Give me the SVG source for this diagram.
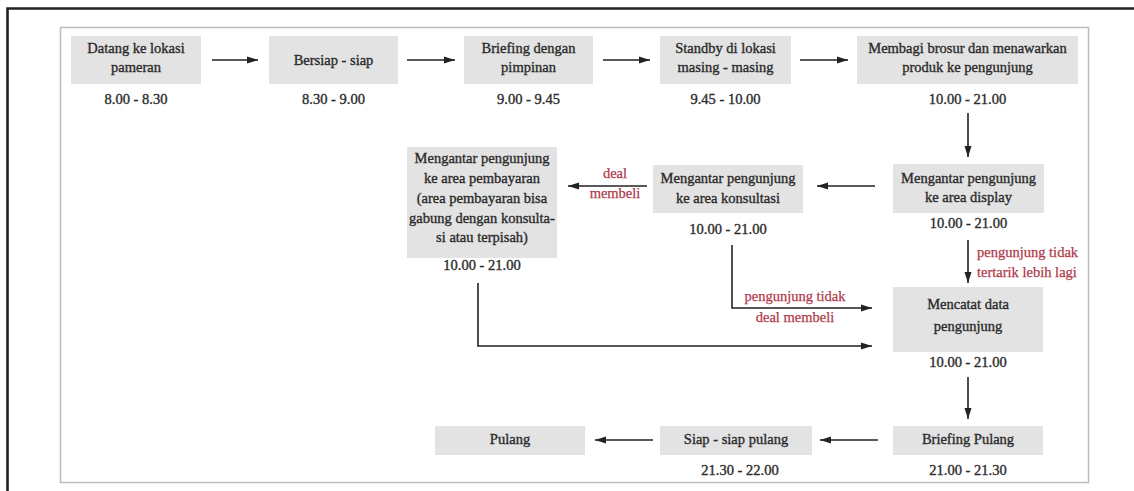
<svg xmlns="http://www.w3.org/2000/svg" width="1134" height="491" viewBox="0 0 1134 491">
<style>
.box{fill:#e3e3e3;}
.t{font-family:'Liberation Serif','Times New Roman','DejaVu Serif',serif;font-size:14.5px;fill:#2b2b2b;stroke:#2b2b2b;stroke-width:0.35;text-anchor:middle;}
.r{font-family:'Liberation Serif','Times New Roman','DejaVu Serif',serif;font-size:14.5px;fill:#b0394a;stroke:#b0394a;stroke-width:0.25;}
.c{fill:none;stroke:#222;stroke-width:1.6;marker-end:url(#ah);}
</style>
<defs>
<marker id="ah" markerUnits="userSpaceOnUse" markerWidth="12" markerHeight="8" refX="11" refY="4" orient="auto">
<path d="M0,0.5 L11,4 L0,7.5 z" fill="#222"/>
</marker>
</defs>
<rect width="1134" height="491" fill="#fff"/>
<path d="M7.5,491 V8.5 H1134" fill="none" stroke="#222" stroke-width="2.6"/>
<rect x="60.5" y="27.5" width="1028" height="455" fill="none" stroke="#bdbdbd" stroke-width="1.5"/>

<g id="n1"><rect class="box" x="71" y="36" width="130" height="48"/>
<text class="t" x="136" y="53">Datang ke lokasi</text><text class="t" x="136" y="72">pameran</text>
<text class="t" x="136" y="104">8.00 - 8.30</text></g>
<g id="n2"><rect class="box" x="269" y="36" width="129" height="48"/>
<text class="t" x="333.5" y="64.5">Bersiap - siap</text>
<text class="t" x="333.5" y="104">8.30 - 9.00</text></g>
<g id="n3"><rect class="box" x="464" y="36" width="129" height="48"/>
<text class="t" x="528.5" y="53">Briefing dengan</text><text class="t" x="528.5" y="72">pimpinan</text>
<text class="t" x="528.5" y="104">9.00 - 9.45</text></g>
<g id="n4"><rect class="box" x="660" y="36" width="131" height="48"/>
<text class="t" x="725.5" y="53">Standby di lokasi</text><text class="t" x="725.5" y="72">masing - masing</text>
<text class="t" x="725.5" y="104">9.45 - 10.00</text></g>
<g id="n5"><rect class="box" x="857" y="36" width="221" height="48"/>
<text class="t" x="967.5" y="53">Membagi brosur dan menawarkan</text><text class="t" x="967.5" y="72">produk ke pengunjung</text>
<text class="t" x="967.5" y="104">10.00 - 21.00</text></g>
<g id="n6"><rect class="box" x="893" y="164" width="151" height="49"/>
<text class="t" x="968.5" y="183">Mengantar pengunjung</text><text class="t" x="968.5" y="202">ke area display</text>
<text class="t" x="968.5" y="228">10.00 - 21.00</text></g>
<g id="n7"><rect class="box" x="653" y="165" width="150" height="48"/>
<text class="t" x="728" y="183">Mengantar pengunjung</text><text class="t" x="728" y="203">ke area konsultasi</text>
<text class="t" x="728" y="234">10.00 - 21.00</text></g>
<g id="n8"><rect class="box" x="407" y="147" width="150" height="111"/>
<text class="t" x="482" y="163">Mengantar pengunjung</text><text class="t" x="482" y="183">ke area pembayaran</text>
<text class="t" x="482" y="203">(area pembayaran bisa</text><text class="t" x="482" y="223">gabung dengan konsulta-</text>
<text class="t" x="482" y="242">si atau terpisah)</text>
<text class="t" x="482" y="270">10.00 - 21.00</text></g>
<g id="n9"><rect class="box" x="893" y="287" width="150" height="65"/>
<text class="t" x="968" y="309">Mencatat data</text><text class="t" x="968" y="331">pengunjung</text>
<text class="t" x="968" y="367">10.00 - 21.00</text></g>
<g id="n10"><rect class="box" x="893" y="426" width="150" height="29"/>
<text class="t" x="968" y="444">Briefing Pulang</text>
<text class="t" x="968" y="475">21.00 - 21.30</text></g>
<g id="n11"><rect class="box" x="660" y="426" width="152" height="29"/>
<text class="t" x="736" y="444">Siap - siap pulang</text>
<text class="t" x="740" y="475">21.30 - 22.00</text></g>
<g id="n12"><rect class="box" x="435" y="426" width="150" height="29"/>
<text class="t" x="510" y="444">Pulang</text></g>

<g id="connectors">
<path class="c" d="M212,60 H258"/>
<path class="c" d="M407,60 H455"/>
<path class="c" d="M603,60 H650"/>
<path class="c" d="M800,60 H848"/>
<path class="c" d="M968,113 V157"/>
<path class="c" d="M875,186 H817"/>
<path class="c" d="M647,186 H568"/>
<path class="c" d="M968,240 V283"/>
<path class="c" d="M732,245 V308 H872"/>
<path class="c" d="M478,283 V346 H872"/>
<path class="c" d="M968,377 V419"/>
<path class="c" d="M878,440 H820"/>
<path class="c" d="M653,440 H595"/>
<text class="r" x="615" y="178" text-anchor="middle">deal</text>
<text class="r" x="615" y="198" text-anchor="middle">membeli</text>
<text class="r" x="977" y="257">pengunjung tidak</text>
<text class="r" x="977" y="277">tertarik lebih lagi</text>
<text class="r" x="795" y="301" text-anchor="middle">pengunjung tidak</text>
<text class="r" x="795" y="322" text-anchor="middle">deal membeli</text>
</g>
</svg>
